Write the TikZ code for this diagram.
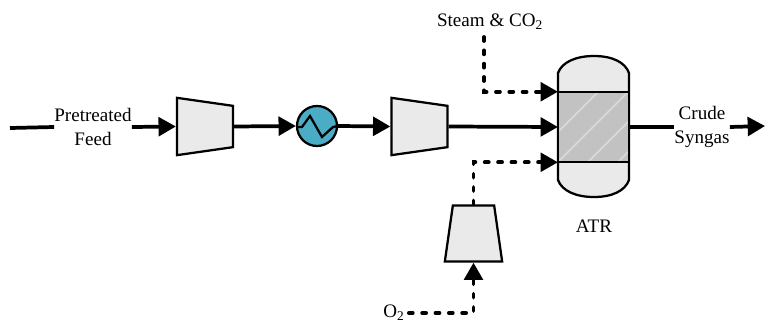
\documentclass[tikz,border=0pt]{standalone}
\usepackage{fontspec}
\setmainfont{Liberation Serif}
\usetikzlibrary{positioning}
\usetikzlibrary{arrows.meta}
\usetikzlibrary{shapes.geometric}
\definecolor{unitgrey}{HTML}{EAEAEA}
\definecolor{bedgrey}{HTML}{C2C2C2}
\definecolor{hxblue}{HTML}{4BACC6}
\tikzset{
        treenode/.style={align=center,inner sep=0pt},
        % Stream labels
        node_label/.style={treenode, font=\fontsize{14.3}{17.5}\selectfont},
        % Compressors
        node_comp/.style={trapezium, draw=black, fill=unitgrey, line width=1.7pt, inner sep=2pt, trapezium stretches=true, trapezium angle=79, minimum height=42pt, minimum width=43pt},
        % Heat exchanger
        node_hx/.style={circle, draw=black, fill=hxblue, line width=1.7pt, inner sep=0pt, minimum size=30pt},
        % Catalyst bed
        node_bed/.style={rectangle, fill=bedgrey, inner sep=0pt, minimum width=53pt, minimum height=52.5pt},
        % Streams
        line_solid/.style={line width=2.8pt},
        line_feed/.style={line_solid, -{Triangle[length=13pt,width=14pt]}},
        line_aux/.style={line_feed, line cap=round, dash pattern=on 3pt off 7pt}
}
\begin{document}
\begin{tikzpicture}[x=0.75pt, y=-0.75pt]
    \useasboundingbox (0,0) rectangle (765,322);

    % Shell first, the bed goes on top of it
    \draw[fill=unitgrey, line width=1.7pt] (558,92) -- (558,73) .. controls (562,62) and (576,56) .. (594,56) .. controls (612,56) and (625,62) .. (629,73) -- (629,180) .. controls (625,191) and (612,197) .. (594,197) .. controls (576,197) and (562,191) .. (558,180) -- cycle;
    \node[node_bed] (bed) at (593.5,127) {};
    \begin{scope}
        \clip (bed.north west) rectangle (bed.south east);
        \foreach \i in {-20,10,...,130}
            \draw[white!40!bedgrey, line width=1.2pt] (530+\i,180) -- (620+\i,90);
    \end{scope}
    \draw[line width=1.7pt] (bed.north west) rectangle (bed.south east);

    \node[node_label] (feed) at (93,127) {Pretreated\\Feed};
    \node[node_comp, rotate=-90] (comp_a) at (205,126.5) {};
    \node[node_hx] (hx) at (317,126) {};
    \node[node_comp, rotate=-90] (comp_b) at (419.5,126.5) {};
    \node[node_comp] (comp_o) at (473.5,233.5) {};
    \node[node_label] (steam) at (490,22) {Steam \& CO\textsubscript{2}};
    \node[node_label, inner xsep=3pt] (oxygen) at (394,313) {O\textsubscript{2}};
    \node[node_label] (atr) at (594,226) {ATR};
    \node[node_label] (syngas) at (702,127) {Crude\\Syngas};

    \coordinate (feed_in) at (10,128);
    \coordinate (steam_out) at (484,37);
    \coordinate (syngas_out) at (765,126);

    \draw[line width=1.7pt] (hx.center) ++(-21,1) -- ++(6,0) -- ++(8,-11) -- ++(12,21) -- ++(11,-10) -- ++(5,-1);

    \draw[line_solid] (feed_in) -- (feed.west);
    \draw[line_feed] (feed.east) -- (comp_a.south);
    \draw[line_feed] (comp_a.north) -- (hx.west);
    \draw[line_feed] (hx.east) -- (comp_b.south);
    \draw[line_feed] (comp_b.north) -- (bed.west);
    \draw[line_solid] (bed.east) -- (syngas.west);
    \draw[line_feed] (syngas.east) -- (syngas_out);
    \draw[line_aux] (steam_out) |- (bed.north west);
    \draw[line_aux] (comp_o.north) |- (bed.south west);
    \draw[line_aux] (oxygen.east) -| (comp_o.south);
\end{tikzpicture}
\end{document}
